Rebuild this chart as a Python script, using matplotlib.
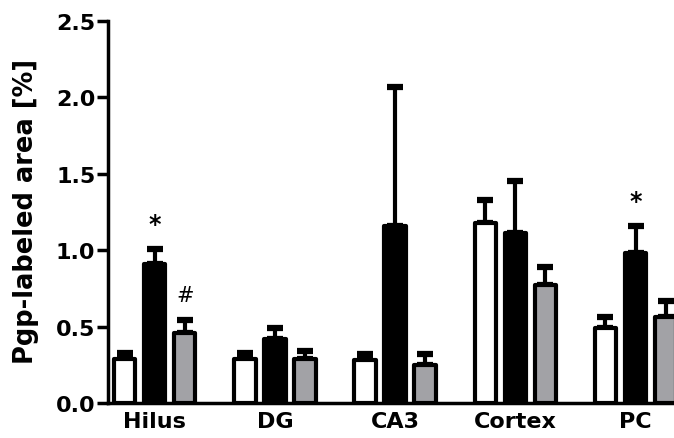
import matplotlib
matplotlib.use("Agg")
import matplotlib.pyplot as plt
import numpy as np

plt.rcParams['font.family'] = ['DejaVu Sans']
plt.rcParams['font.weight'] = 'bold'

regions = ["Hilus", "DG", "CA3", "Cortex", "PC"]
control_mean = [0.29, 0.29, 0.28, 1.18, 0.49]
control_sem = [0.04, 0.04, 0.04, 0.15, 0.07]
black_mean = [0.91, 0.42, 1.16, 1.11, 0.98]
black_sem = [0.10, 0.07, 0.91, 0.34, 0.18]
gray_mean = [0.46, 0.29, 0.25, 0.77, 0.56]
gray_sem = [0.08, 0.05, 0.07, 0.12, 0.11]
yticks = [0.0, 0.5, 1.0, 1.5, 2.0, 2.5]

# significance markers: (group index, series offset, y, symbol)
markers = [(0, 0, 1.17, "*"), (0, 1, 0.71, "#"), (4, 0, 1.32, "*")]

fig = plt.figure(figsize=(6.74, 4.39), dpi=100)
ax = fig.add_axes([0.160, 0.0797, 0.840, 0.8702])

x = np.arange(len(regions))
offset = 0.25
width = 0.178
lw = 3.0
series = [
    (control_mean, control_sem, "white", -offset),
    (black_mean, black_sem, "black", 0.0),
    (gray_mean, gray_sem, "#a2a2a6", offset),
]
for mean, sem, color, off in series:
    xs = x + off
    ax.bar(xs, mean, width=width, color=color, edgecolor="black",
           linewidth=lw, zorder=3, joinstyle="round")
    eb = ax.errorbar(xs, mean, yerr=[np.zeros(len(mean)), sem], fmt="none",
                     ecolor="black", elinewidth=3, capsize=6, capthick=4.5,
                     zorder=2)
    for cap in eb[1]:
        cap.set_solid_capstyle("round")

for gi, si, yv, sym in markers:
    ax.text(x[gi] + si * offset, yv, sym, ha="center", va="center",
            fontsize=17 if sym == "*" else 15,
            fontweight="normal" if sym == "#" else "bold")

ax.set_xlim(-0.39, 4.32)
ax.set_ylim(0, 2.5)
ax.set_yticks(yticks)
ax.set_yticklabels([f"{v:.1f}" for v in yticks], fontsize=16, fontweight="bold")
ax.set_xticks(x)
ax.set_xticklabels(regions, fontsize=16, fontweight="bold")
ax.tick_params(axis="x", length=0, pad=6)
ax.tick_params(axis="y", length=8, width=2.5, pad=1)
ax.set_ylabel("Pgp-labeled area [%]", fontsize=18.5, fontweight="bold")
ax.yaxis.set_label_coords(-0.122, 0.503)

for side in ["top", "right"]:
    ax.spines[side].set_visible(False)
for side in ["left", "bottom"]:
    ax.spines[side].set_linewidth(2.5)

fig.savefig("out.png", dpi=100)
